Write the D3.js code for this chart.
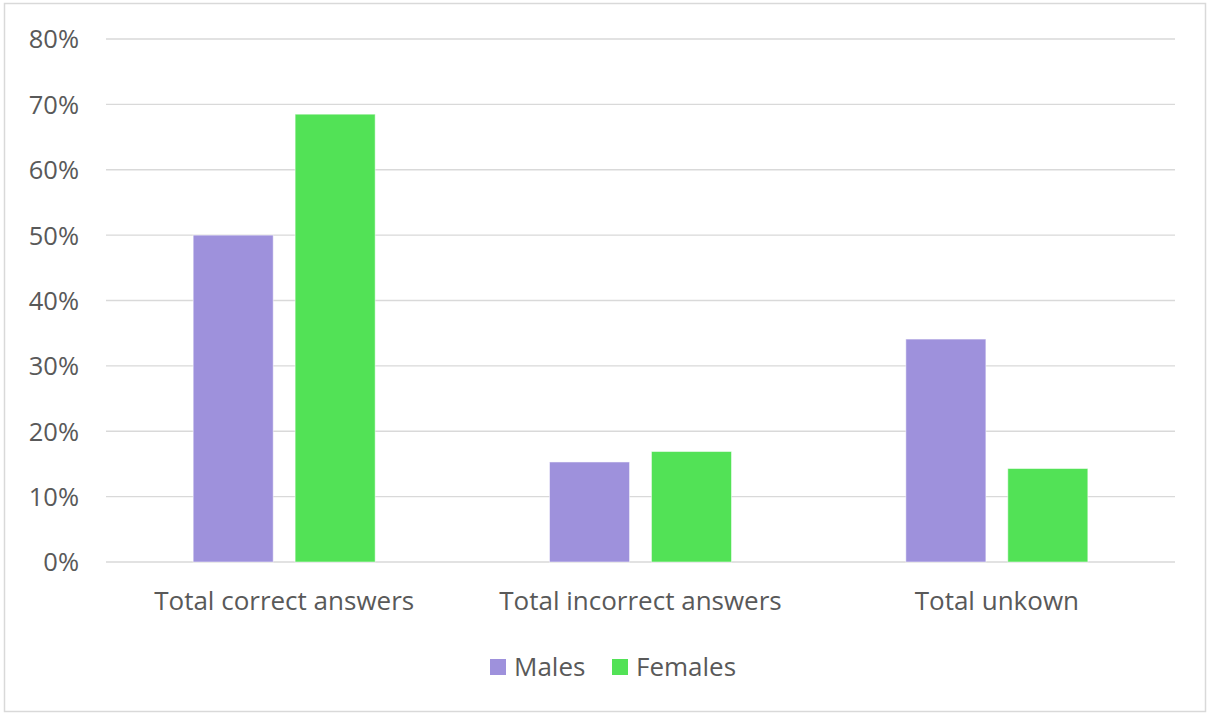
<!DOCTYPE html>
<html>
<head>
<meta charset="utf-8">
<script src="https://cdn.jsdelivr.net/npm/d3@7"></script>
<style>
  html, body { margin: 0; padding: 0; background: #fff; }
  svg { display: block; }
  text { font-family: "Open Sans", "Noto Sans", sans-serif; fill: #595959; }
</style>
</head>
<body>
<svg id="chart" width="1210" height="715"></svg>
<script>
// Share of answers by gender
const categories = ["Total correct answers", "Total incorrect answers", "Total unkown"];
const seriesNames = ["Males", "Females"];
const males = [50.0, 15.3, 34.1];
const females = [68.5, 16.9, 14.3];
const yTicks = [0, 10, 20, 30, 40, 50, 60, 70, 80];
const colors = { Males: "#9e91dc", Females: "#52e256" };

const svg = d3.select("#chart");
const W = 1210, H = 715;
const plot = { left: 106, right: 1175, top: 39, bottom: 562 };
const FONT = 26;

// outer frame
svg.append("rect")
  .attr("x", 4.5).attr("y", 3.5)
  .attr("width", W - 9).attr("height", H - 7)
  .attr("fill", "#fff")
  .attr("stroke", "#d9d9d9").attr("stroke-width", 1.5);

const y = d3.scaleLinear().domain([0, 80]).range([plot.bottom, plot.top]);
const x0 = d3.scaleBand().domain(categories).range([plot.left, plot.right]).padding(0);
const x1 = d3.scaleBand().domain(seriesNames)
  .range([0, x0.bandwidth()])
  .paddingInner(0.215).paddingOuter(0.855);

// gridlines
svg.append("g").selectAll("line").data(yTicks).join("line")
  .attr("x1", plot.left).attr("x2", plot.right)
  .attr("y1", d => y(d)).attr("y2", d => y(d))
  .attr("stroke", "#d9d9d9").attr("stroke-width", 1.3);

// y axis labels
const yAxis = d3.axisLeft(y).tickValues(yTicks).tickFormat(d => d + "%").tickSize(0).tickPadding(0);
const yg = svg.append("g").attr("transform", `translate(${plot.left - 27},0)`).call(yAxis);
yg.select(".domain").remove();
yg.selectAll("text")
  .attr("font-size", 25.5)
  .attr("fill", "#595959")
  .attr("font-family", "Open Sans, Noto Sans, sans-serif")
  .attr("dy", "0.35em");

// bars
const rows = categories.map((c, i) => ({ cat: c, values: [
  { key: "Males", v: males[i] }, { key: "Females", v: females[i] }
]}));

const groups = svg.append("g").selectAll("g").data(rows).join("g")
  .attr("transform", d => `translate(${x0(d.cat)},0)`);
groups.selectAll("rect").data(d => d.values).join("rect")
  .attr("x", d => x1(d.key))
  .attr("width", x1.bandwidth())
  .attr("y", d => y(d.v))
  .attr("height", d => y(0) - y(d.v))
  .attr("fill", d => colors[d.key])
  .attr("stroke", "#ffffff").attr("stroke-opacity", 0.5).attr("stroke-width", 1);

// x axis labels
const xAxis = d3.axisBottom(x0).tickSize(0).tickPadding(0);
const xg = svg.append("g").attr("transform", `translate(0,${plot.bottom + 39})`).call(xAxis);
xg.select(".domain").remove();
xg.selectAll("text")
  .attr("font-size", FONT)
  .attr("fill", "#595959")
  .attr("font-family", "Open Sans, Noto Sans, sans-serif")
  .attr("dy", "0.35em");

// legend
const legend = svg.append("g").attr("transform", "translate(490,667)");
const legendX = [0, 122];
seriesNames.forEach((name, i) => {
  const g = legend.append("g").attr("transform", `translate(${legendX[i]},0)`);
  g.append("rect").attr("x", 0).attr("y", -8).attr("width", 16).attr("height", 16)
    .attr("fill", colors[name]);
  g.append("text").attr("x", 24).attr("y", 0).attr("dy", "0.35em")
    .attr("font-size", FONT).text(name);
});
</script>
</body>
</html>
